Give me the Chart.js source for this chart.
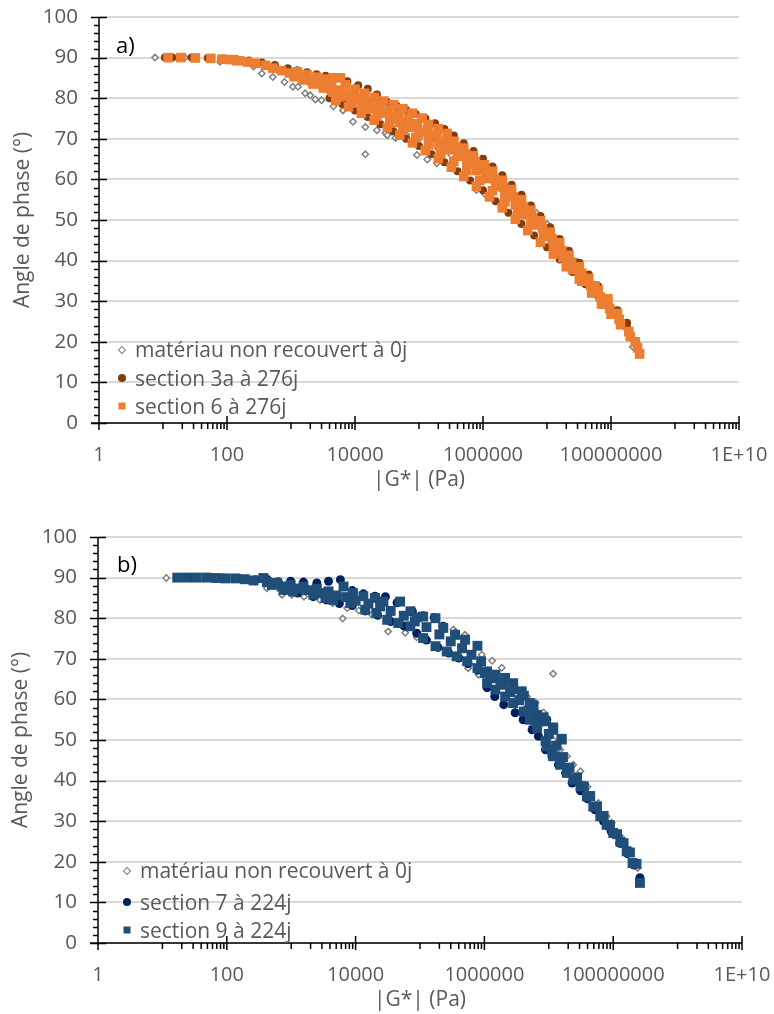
<!DOCTYPE html>
<html>
<head>
<meta charset="utf-8">
<script src="https://cdn.jsdelivr.net/npm/chart.js@4.4.1/dist/chart.umd.min.js"></script>
<style>
  body { margin: 0; background: #fff; font-family: 'Open Sans', sans-serif; }
  #page { position: relative; width: 774px; height: 1014px; overflow: hidden; }
  .box { position: absolute; left: 0; width: 774px; }
  .lg { position: absolute; font-size: 21px; color: #595959; white-space: nowrap; line-height: 24px; transform: translateY(-50%); }
  .mk { position: absolute; transform: translate(-50%, -50%); box-sizing: border-box; }
  .tag { position: absolute; font-size: 22px; color: #000; line-height: 26px; transform: translateY(-50%); }
</style>
</head>
<body>
<div id="page">
  <div class="box" style="top:0;height:500px"><canvas id="chartA" width="774" height="500"></canvas></div>
  <div class="box" style="top:520px;height:494px"><canvas id="chartB" width="774" height="494"></canvas></div>

  <div class="tag" style="left:116px;top:44px">a)</div>
  <div class="tag" style="left:117px;top:563px">b)</div>

  <!-- legend a -->
  <div class="mk" style="left:122px;top:350px;width:6px;height:6px;border:1.5px solid #7f7f7f;background:#fff;transform:translate(-50%,-50%) rotate(45deg)"></div>
  <div class="lg" style="left:135px;top:349px">matériau non recouvert à 0j</div>
  <div class="mk" style="left:122px;top:378px;width:8px;height:8px;border-radius:50%;background:#843c0c"></div>
  <div class="lg" style="left:135px;top:378px">section 3a à 276j</div>
  <div class="mk" style="left:122px;top:406px;width:7px;height:7px;background:#ed7d31"></div>
  <div class="lg" style="left:135px;top:406px">section 6 à 276j</div>

  <!-- legend b -->
  <div class="mk" style="left:127px;top:871px;width:6px;height:6px;border:1.5px solid #7f7f7f;background:#fff;transform:translate(-50%,-50%) rotate(45deg)"></div>
  <div class="lg" style="left:140px;top:870px">matériau non recouvert à 0j</div>
  <div class="mk" style="left:127px;top:902px;width:8px;height:8px;border-radius:50%;background:#002060"></div>
  <div class="lg" style="left:140px;top:902px">section 7 à 224j</div>
  <div class="mk" style="left:127px;top:930px;width:7px;height:7px;background:#1f4e79"></div>
  <div class="lg" style="left:140px;top:930px">section 9 à 224j</div>
</div>

<script>
// axis ticks (|G*| in Pa, log scale)
const xTickVals = [1, 100, 10000, 1000000, 100000000, 1e10];
const xTickLabels = ['1', '100', '10000', '1000000', '100000000', '1E+10'];

// chart a) — [|G*| (Pa), phase angle (°)]
const matA = [
  [7.5, 90], [22, 90], [54, 89.8], [78, 89], [126, 89], [190, 88.8], [260, 87.8], [350, 86.1],
  [520, 85.2], [790, 84], [1070, 82.8], [1290, 82.8], [1660, 81.2], [2000, 80.7], [2400, 79.7],
  [3000, 79.5], [4000, 81.5], [4600, 78], [6500, 77], [7900, 79.5], [9300, 74.2], [1.45e4, 72.9],
  [1.45e4, 66.2], [1.58e4, 77], [2.2e4, 72.1], [3.0e4, 71.4], [3.2e4, 70.9], [4.0e4, 73.5],
  [4.3e4, 70.2], [6.3e4, 71], [9.3e4, 66], [1.0e5, 70], [1.35e5, 64.9], [1.9e5, 64], [2.0e5, 67.5],
  [3.2e5, 66], [3.9e5, 68.2], [5.6e5, 62.5], [7.9e5, 57.4], [1.07e6, 56.4], [1.29e6, 61],
  [1.7e6, 60], [2.5e6, 57.5], [3.5e6, 55.5], [5.0e6, 53.2], [6.9e6, 51.7], [1.0e7, 49],
  [1.26e7, 46], [1.7e7, 42.6], [2.1e7, 41.1], [2.95e7, 39.7], [4.7e7, 33.3], [6.0e7, 32.3],
  [7.6e7, 30.4], [8.9e7, 29.2], [1.12e8, 27], [1.29e8, 25], [1.66e8, 23.5], [2.0e8, 21], [2.2e8, 18.8]
];
const sec3a = [
  [10.7, 90], [14, 90], [28, 90], [50, 89.9], [89, 89.8], [140, 89.6], [220, 89.3], [350, 88.8],
  [560, 88.2], [890, 87.4],
  [1260, 86.9], [1780, 86.4], [2500, 85.9], [3500, 85.5], [5200, 85.2], [7600, 84.2], [1.12e4, 83.2],
  [1.58e4, 82.3], [2.2e4, 80.9],
  [1000, 86], [1410, 85.2], [2000, 84.3], [2800, 83.3], [4000, 82.4], [5600, 81.6], [7900, 80.6],
  [1.12e4, 79.6], [1.58e4, 78.6], [2.2e4, 77.6], [3.2e4, 76.5], [4.5e4, 75.4], [6.3e4, 74.2],
  [8.9e4, 73], [1.26e5, 71.7], [1.78e5, 70.4], [2.5e5, 68.9], [3.5e5, 67.4], [5.0e5, 65.8],
  [7.1e5, 64.1], [1.0e6, 62.3], [1.41e6, 60.4], [2.0e6, 58.4], [2.8e6, 56.3], [4.0e6, 54],
  [5.6e6, 51.6], [7.9e6, 49.1], [1.12e7, 46.5], [1.58e7, 43.8], [2.2e7, 41], [3.2e7, 38.1],
  [4.5e7, 35.2], [6.3e7, 32.3], [8.9e7, 29.4], [1.26e8, 26.5], [1.78e8, 23.5], [2.5e8, 19.6], [2.8e8, 17.5],
  [3.2e4, 79], [4.5e4, 78.1], [6.3e4, 77.1], [8.9e4, 76.1], [1.26e5, 75], [1.78e5, 73.8], [2.5e5, 72.4],
  [3.5e5, 70.8], [5.0e5, 68.9], [7.1e5, 67], [1.0e6, 65.1], [1.41e6, 63.2], [2.0e6, 61], [2.8e6, 58.7],
  [4.0e6, 56.2], [5.6e6, 53.6], [7.9e6, 51], [1.12e7, 48.2], [1.58e7, 45.3], [2.2e7, 42.4], [3.2e7, 39.5],
  [4.5e7, 36.6], [6.3e7, 33.7], [8.9e7, 30.8], [1.26e8, 27.8], [1.78e8, 24.7],
  [4000, 80], [6300, 78.6], [1.0e4, 77], [1.58e4, 75.4], [2.5e4, 73.6], [4.0e4, 71.8], [6.3e4, 70],
  [1.0e5, 68.2], [1.58e5, 66.2], [2.5e5, 64.2], [4.0e5, 62], [6.3e5, 59.7], [1.0e6, 57.3], [1.58e6, 54.6],
  [2.5e6, 51.8], [4.0e6, 49], [6.3e6, 46.2], [1.0e7, 43.3], [1.58e7, 40.3], [2.5e7, 37.2], [4.0e7, 34.2],
  [6.3e7, 31.2], [1.0e8, 28.2]
];
const sec6 = [
  [12, 90], [19, 90], [32, 89.9], [56, 89.8], [83, 89.6], [112, 89.5], [158, 89.2], [210, 88.9],
  [280, 88.6], [400, 88.1], [520, 87.4], [710, 86.8], [950, 86.2],
  [1260, 86.5], [1780, 85.8], [2500, 85.2], [3500, 84.7], [4500, 85], [5900, 85], [7100, 83.3],
  [1.0e4, 82.2], [1.41e4, 81.2], [2.0e4, 80.2], [2.8e4, 79.3], [4.0e4, 78.4], [5.6e4, 77.4],
  [7.9e4, 76.3], [1.12e5, 75.1], [1.41e5, 73.5], [2.0e5, 72.5], [2.75e5, 71.3],
  [1120, 85.3], [1580, 84.5], [2200, 83.5], [3200, 82.5], [4500, 81.5], [6300, 80.6], [8900, 79.6],
  [1.26e4, 78.5], [1.78e4, 77.4], [2.5e4, 76.3], [3.5e4, 75.2], [5.0e4, 74], [7.1e4, 72.8],
  [1.0e5, 71.5], [1.41e5, 70.2], [2.0e5, 68.8], [2.8e5, 67.3], [4.0e5, 65.7], [5.6e5, 64],
  [7.9e5, 62.2], [1.12e6, 60.2], [1.58e6, 58.2], [2.2e6, 56], [3.2e6, 53.7], [4.5e6, 51.3],
  [6.3e6, 48.8], [8.9e6, 46.2], [1.26e7, 43.5], [1.78e7, 40.7], [2.5e7, 37.8], [3.5e7, 34.9],
  [5.0e7, 32], [7.1e7, 29.3], [1.0e8, 26.8], [1.41e8, 24.2], [2.0e8, 21.3], [2.6e8, 18.5], [2.8e8, 17],
  [3.5e5, 69.4], [5.0e5, 67.7], [7.1e5, 65.8], [1.05e6, 63.6], [1.41e6, 62], [2.0e6, 59.8],
  [2.8e6, 57.5], [4.0e6, 55], [5.6e6, 52.4], [7.9e6, 49.8], [1.12e7, 47], [1.58e7, 44.4],
  [2.2e7, 41.3], [3.2e7, 38.5], [4.5e7, 35.6], [6.3e7, 32.7], [8.9e7, 29.8], [1.26e8, 27],
  [5000, 79.4], [7900, 77.9], [1.26e4, 76.3], [2.0e4, 74.6], [3.2e4, 72.8], [5.0e4, 70.9],
  [7.9e4, 69], [1.26e5, 67.1], [2.0e5, 65.1], [3.2e5, 63], [5.0e5, 60.7], [7.9e5, 58.3],
  [1.26e6, 55.7], [2.0e6, 53], [3.2e6, 50.2], [5.0e6, 47.4], [7.9e6, 44.5], [1.26e7, 41.6],
  [2.0e7, 38.5], [3.2e7, 35.4], [5.0e7, 32.4], [7.9e7, 29.4],
  [1500, 85], [2100, 84.3], [3000, 83.6], [4300, 82.8], [6000, 82], [8500, 81], [1.2e4, 80],
  [1.7e4, 79], [2.4e4, 78], [3.4e4, 77], [4.8e4, 76], [6.8e4, 74.9], [9.5e4, 73.7], [1.35e5, 72.4],
  [1.9e5, 71], [2.7e5, 69.6], [3.8e5, 68], [5.4e5, 66.2], [7.6e5, 64.3], [1.07e6, 62.3], [1.5e6, 60.2],
  [2.1e6, 58], [3.0e6, 55.7], [4.3e6, 53.2], [6.0e6, 50.6], [8.5e6, 48], [1.2e7, 45.3], [1.7e7, 42.5],
  [2.4e7, 39.6], [3.4e7, 36.7], [4.8e7, 33.8], [6.8e7, 31], [9.5e7, 28.2], [1.35e8, 25.5],
  [1.9e8, 22.5], [2.4e8, 20],
  [5600, 80.3], [8900, 78.8], [1.41e4, 77.3], [2.2e4, 75.6], [3.5e4, 73.9], [5.6e4, 72.1],
  [8.9e4, 70.3], [1.41e5, 68.5], [2.2e5, 66.5], [3.5e5, 64.4], [5.6e5, 62.2], [8.9e5, 59.8],
  [1.41e6, 57.2], [2.2e6, 54.5], [3.5e6, 51.7], [5.6e6, 48.9], [8.9e6, 46], [1.41e7, 43],
  [2.2e7, 40], [3.5e7, 36.9], [5.6e7, 33.8], [8.9e7, 30.6]
];

// chart b)
const matB = [
  [11.5, 89.9], [32, 90], [100, 89.8], [200, 89.5], [280, 89], [420, 87.4], [720, 85.8], [1020, 85.8],
  [1580, 85.3], [2800, 84.5], [4400, 83.7], [6300, 79.9], [7400, 82.5], [1.12e4, 81.9], [1.78e4, 80.9],
  [3.2e4, 76.7], [5.9e4, 76.4], [8.9e4, 75.3], [2.2e5, 78], [3.3e5, 77.2], [5.0e5, 75.9], [5.6e5, 67.7],
  [8.1e5, 66.1], [9.1e5, 71], [1.32e6, 69.5], [1.86e6, 67.8], [2.4e6, 64], [2.8e6, 59.5], [4.1e6, 57.5],
  [4.6e6, 60.7], [6.2e6, 59.2], [8.3e6, 56.8], [5.5e6, 53.3], [6.9e6, 51.3], [1.17e7, 66.3], [1.17e7, 50],
  [1.51e7, 47.6], [1.91e7, 46], [2.4e7, 43.9], [3.1e7, 42.3], [4.0e7, 38.5], [5.9e7, 34.5], [7.9e7, 31.2],
  [9.5e7, 29.6], [1.26e8, 26.5], [1.86e8, 22.2], [2.4e8, 18.5]
];
const sec7 = [
  [17.8, 90], [28, 90], [50, 90], [89, 89.9], [158, 89.8], [280, 89.5], [420, 89.6], [630, 89],
  [980, 89.1], [1550, 88.9], [2500, 88.7], [3800, 89.1], [5800, 89.5],
  [8900, 86.8], [1.32e4, 86], [2.0e4, 85.4], [2.9e4, 85.3], [4.4e4, 83.8], [7.6e4, 81.7], [1.12e5, 80.6],
  [1.66e5, 80.2], [2.3e5, 78], [3.5e5, 76.2],
  [790, 86.8], [1260, 86.2], [2200, 85.3], [3500, 84.5], [5600, 83.6], [8900, 83.1], [1.41e4, 81.8],
  [2.2e4, 80.7], [3.5e4, 79.2], [5.6e4, 78.1], [8.9e4, 76.3], [1.26e5, 74.6], [1.9e5, 72.8],
  [2.8e5, 71.4], [4.0e5, 70.2], [5.6e5, 68.8], [7.9e5, 67.2], [1.1e6, 62.9], [1.45e6, 60.7],
  [2.0e6, 58.7], [3.0e6, 56.7], [4.0e6, 55], [5.5e6, 52.5], [6.9e6, 50.9], [8.9e6, 47.6], [1.12e7, 46],
  [1.41e7, 43.9], [1.82e7, 41.9], [2.3e7, 39.4], [3.1e7, 37.5], [4.0e7, 35.5], [5.2e7, 32.8],
  [7.1e7, 30], [9.3e7, 27.5], [1.26e8, 24.6], [1.66e8, 22], [2.1e8, 19.2], [2.6e8, 16.1],
  [1.17e7, 52.8], [9.3e6, 55], [1.1e6, 66.5]
];
const sec9 = [
  [17, 90], [24, 90], [34, 90], [48, 90], [68, 89.9], [95, 89.8], [135, 89.8], [190, 89.6], [260, 89.3],
  [370, 89.9], [420, 88.9], [600, 88.7],
  [980, 88.2], [1550, 87.8], [2500, 87.2], [3800, 86.6], [6500, 87.8], [9100, 86.2], [1.32e4, 85.4],
  [2.0e4, 85], [2.7e4, 84.1], [4.9e4, 84.1], [7.1e4, 81.7], [8.9e4, 80.2], [1.12e5, 80.4], [1.74e5, 80],
  [2.3e5, 77.6], [3.5e5, 75.9], [5.0e5, 74.7], [7.8e5, 73.2],
  [760, 87], [1070, 86.6], [2200, 85.8], [3400, 85], [4500, 84.5], [8300, 83.7], [1.41e4, 82.1],
  [2.1e4, 81.3], [3.1e4, 79.6], [4.6e4, 78.8], [7.1e4, 78], [1.12e5, 75.1], [1.74e5, 73.1], [2.6e5, 71.8],
  [3.7e5, 70.6], [5.4e5, 69.4], [7.8e5, 67.7], [1.02e6, 66.5], [1.48e6, 65.4], [2.0e6, 64.2],
  [2.8e6, 62.5], [4.1e6, 60.9], [5.8e6, 58.5], [8.3e6, 55.6], [1.17e7, 53.1], [1.58e7, 50.3],
  [1.1e6, 66.9], [1.48e6, 66.1], [2.1e6, 65.3], [2.8e6, 64], [3.8e6, 62], [5.1e6, 59.1], [6.6e6, 56.2],
  [8.9e6, 54.6], [1.17e7, 52.5], [1.58e7, 50.1],
  [1.1e6, 64], [1.48e6, 62.4], [2.1e6, 60.7], [2.8e6, 59.1], [4.1e6, 57], [5.1e6, 55], [6.6e6, 53],
  [8.9e6, 49.7], [1.12e7, 47.6], [9.3e6, 48.4], [1.17e7, 46], [1.51e7, 43.9], [1.91e7, 41.9],
  [2.4e7, 40.2], [3.1e7, 38.6], [3.9e7, 36.1], [4.9e7, 33.6], [6.3e7, 31.2], [7.9e7, 29.1], [1.0e8, 27.1],
  [1.29e8, 25], [1.62e8, 22.6], [2.0e8, 19.7], [2.6e8, 14.8],
  [500, 88.2], [710, 87.8], [1260, 87.3], [1780, 86.9], [2800, 86.2], [5000, 85.6], [7100, 85.2],
  [1.0e4, 84.3], [1.58e4, 83.6], [2.4e4, 82.9], [3.5e4, 81.8], [5.6e4, 80.6], [8.3e4, 79.2],
  [1.26e5, 77.8], [2.0e5, 76], [3.0e5, 74.3], [4.5e5, 72.6], [6.3e5, 71], [8.9e5, 69.4],
  [1.26e6, 65.2], [1.78e6, 63.6], [2.5e6, 61.8], [3.5e6, 59.8], [5.0e6, 57.4], [7.1e6, 54.6],
  [1.0e7, 51.5], [1.32e7, 48.6], [1.66e7, 45.8], [2.1e7, 43.2], [2.75e7, 40.8], [3.5e7, 38.6],
  [4.4e7, 36.2], [5.6e7, 33.6], [7.1e7, 31.3], [8.9e7, 29], [1.15e8, 26.8], [1.45e8, 24.6],
  [1.82e8, 22.3], [2.3e8, 19.5]
];

const FONT = "'Open Sans', sans-serif";
const toXY = pts => pts.map(p => ({ x: p[0], y: p[1] }));

// Excel-style axes: crossing major ticks, minor ticks outside
const axisTicks = {
  id: 'axisTicks',
  afterDraw(chart) {
    const { ctx, chartArea: a, scales: { x, y } } = chart;
    ctx.save();
    ctx.strokeStyle = '#000';
    ctx.lineWidth = 1.5;
    ctx.beginPath();
    ctx.moveTo(a.left, a.top);
    ctx.lineTo(a.left, a.bottom);
    ctx.moveTo(a.left - 8, a.bottom);
    ctx.lineTo(a.right, a.bottom);
    for (let v = 0; v <= 100; v += 2) {
      const py = Math.round(y.getPixelForValue(v)) + 0.5;
      if (v % 10 === 0) { ctx.moveTo(a.left - 8, py); ctx.lineTo(a.left + 8, py); }
      else { ctx.moveTo(a.left - 5, py); ctx.lineTo(a.left, py); }
    }
    for (let e = 0; e <= 10; e += 2) {
      const px = x.getPixelForValue(Math.pow(10, e));
      ctx.moveTo(px, a.bottom - 7);
      ctx.lineTo(px, a.bottom + 7);
      if (e < 10) {
        for (let m = 1; m <= 9; m++) {
          const mx = x.getPixelForValue(m * Math.pow(10, e + 1));
          ctx.moveTo(mx, a.bottom);
          ctx.lineTo(mx, a.bottom + 6);
        }
      }
    }
    ctx.stroke();
    ctx.restore();
  }
};

// fixed scale size, no extra label overflow padding
function fixBox(s, w, h) {
  if (w) s.width = w;
  if (h) s.height = h;
  s.paddingTop = 0; s.paddingBottom = 0; s.paddingLeft = 0; s.paddingRight = 0;
}

function makeChart(id, sets, g) {
  return new Chart(document.getElementById(id), {
    type: 'scatter',
    data: { datasets: sets },
    options: {
      responsive: false,
      animation: false,
      devicePixelRatio: 1,
      layout: { padding: { top: g.top, right: g.right, left: 0, bottom: 0 } },
      plugins: { legend: { display: false }, tooltip: { enabled: false } },
      scales: {
        x: {
          type: 'logarithmic',
          min: 1,
          max: 1e10,
          afterBuildTicks: s => { s.ticks = xTickVals.map(v => ({ value: v })); },
          afterFit: s => fixBox(s, 0, g.xHeight),
          ticks: {
            autoSkip: false, maxRotation: 0, padding: 20,
            color: '#595959', font: { family: FONT, size: 20 },
            callback: v => xTickLabels[xTickVals.indexOf(v)]
          },
          grid: { display: false, drawTicks: false, tickLength: 0 },
          border: { display: false },
          title: {
            display: true, text: '|G*| (Pa)', color: '#595959',
            font: { family: FONT, size: 21 }, padding: { top: 0, bottom: g.xTitlePad }
          }
        },
        y: {
          min: 0,
          max: 100,
          afterFit: s => fixBox(s, g.left, 0),
          ticks: { stepSize: 10, padding: 21, color: '#595959', font: { family: FONT, size: 20.5 } },
          grid: { color: '#d9d9d9', lineWidth: 2, drawTicks: false, tickLength: 0 },
          border: { display: false },
          title: {
            display: true, text: 'Angle de phase (°)', color: '#595959',
            font: { family: FONT, size: 21 }, padding: { top: g.yTitlePad, bottom: 0 }
          }
        }
      }
    },
    plugins: [axisTicks]
  });
}

const grayStyle = { pointStyle: 'rectRot', pointRadius: 3.2, borderColor: '#7f7f7f', backgroundColor: '#ffffff', borderWidth: 1.5, order: 3 };

makeChart('chartA', [
  Object.assign({ label: 'matériau non recouvert à 0j', data: toXY(matA) }, grayStyle),
  { label: 'section 3a à 276j', data: toXY(sec3a), pointStyle: 'circle', pointRadius: 4, backgroundColor: '#843c0c', borderWidth: 0, order: 2 },
  { label: 'section 6 à 276j', data: toXY(sec6), pointStyle: 'rect', pointRadius: 6.8, backgroundColor: '#ed7d31', borderWidth: 0, order: 1 }
], { top: 17, right: 35, left: 99, xHeight: 77, xTitlePad: 7, yTitlePad: 10 });

makeChart('chartB', [
  Object.assign({ label: 'matériau non recouvert à 0j', data: toXY(matB) }, grayStyle),
  { label: 'section 7 à 224j', data: toXY(sec7), pointStyle: 'circle', pointRadius: 4.5, backgroundColor: '#002060', borderWidth: 0, order: 2 },
  { label: 'section 9 à 224j', data: toXY(sec9), pointStyle: 'rect', pointRadius: 7, backgroundColor: '#1f4e79', borderWidth: 0, order: 1 }
], { top: 17, right: 32, left: 98, xHeight: 71, xTitlePad: 1, yTitlePad: 8 });
</script>
</body>
</html>
